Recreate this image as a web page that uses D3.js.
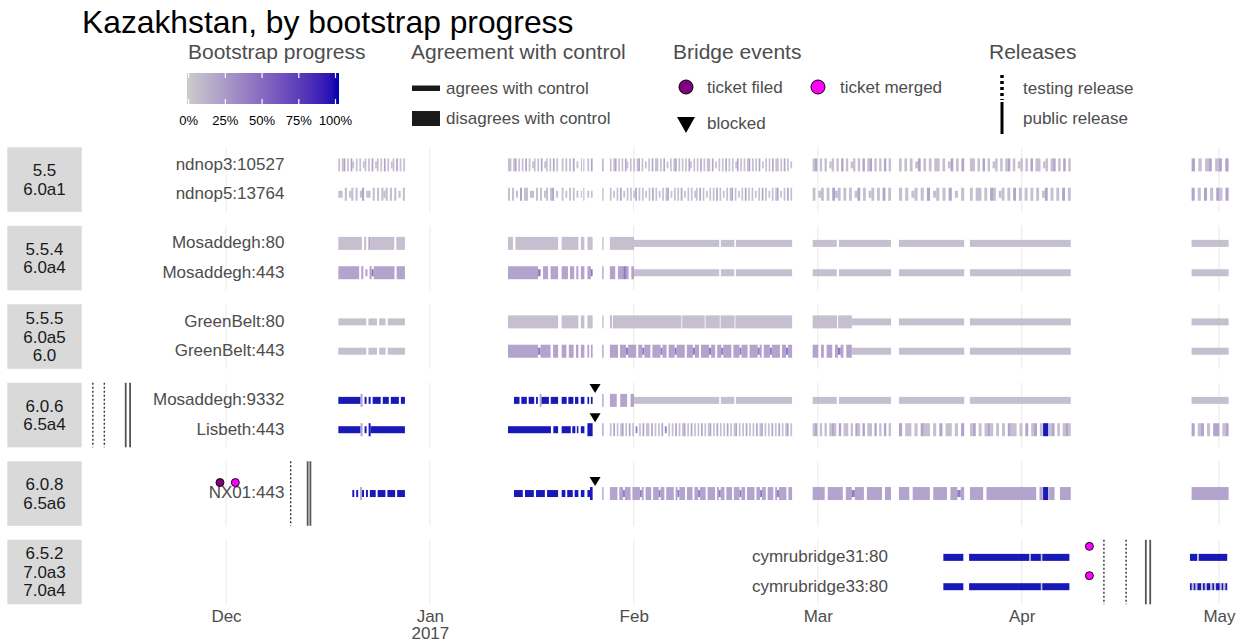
<!DOCTYPE html>
<html>
<head>
<meta charset="utf-8">
<script src="https://cdn.jsdelivr.net/npm/d3@7"></script>
<style>
  body { margin: 0; background: #fff; }
  text { font-family: "Liberation Sans", Arial, Helvetica, sans-serif; }
</style>
</head>
<body>
<svg id="chart" width="1244" height="644"></svg>
<script>
// facets (strip labels) and the bridges drawn in each
var panelLabels = [
  ["5.5", "6.0a1"],
  ["5.5.4", "6.0a4"],
  ["5.5.5", "6.0a5", "6.0"],
  ["6.0.6", "6.5a4"],
  ["6.0.8", "6.5a6"],
  ["6.5.2", "7.0a3", "7.0a4"]
];
var bridgeNames = ["ndnop3:10527", "ndnop5:13764", "Mosaddegh:80", "Mosaddegh:443",
  "GreenBelt:80", "GreenBelt:443", "Mosaddegh:9332", "Lisbeth:443", "NX01:443",
  "cymrubridge31:80", "cymrubridge33:80"];
var bridgePanel = [0, 0, 1, 1, 2, 2, 3, 3, 4, 5, 5];
// where the bridge names sit, per panel
var labelDates = ["2016-12-09T21", "2016-12-09T21", "2016-12-09T21", "2016-12-09T21", "2016-12-09T21", "2017-03-11T16"];

// measurement runs: [start, end, codes]; codes are spread evenly over the run
// g/l/p/b = 10/25/50/100% bootstrap, lower case agrees with control, upper case disagrees, _ = nothing
var progressCodes = { g: 10, l: 25, p: 50, b: 100 };

var ndnop3 = [
  ["2016-12-18T02", "2016-12-28T05", "G_GL_G_Lg_G_G_gG_G_L_gG_G_L_G_gG_L_G_G"],
  ["2017-01-12T21", "2017-01-20T12", "GG_GL_G_G_L_G_gG_G_L_gG_G_L_G"],
  ["2017-01-21T01", "2017-01-23T14", "G_G_G_L_g"],
  ["2017-01-23T23", "2017-01-24T12", "G_G"],
  ["2017-01-24T23", "2017-01-25T18", "G_L"],
  ["2017-01-27T05", "2017-01-27T10", "L"],
  ["2017-01-28T09", "2017-02-25T02", "G_GL_G_G_Lg_G_G_GL_G_g_G_L_GG_G_L_g_G_GL_G_G_G_Lg_G_G_L_G_GG_L_g_G_G_L_G_G_gL_G_G_GL_G_G_L_g_G_G_L_GG_G_L_G_g"],
  ["2017-02-28T05", "2017-03-12T03", "GL_G_G_gG_G_L_G_gG_G_L_GL_G_G_L_G"],
  ["2017-03-13T08", "2017-03-23T06", "G_G_G_gL_G_G_GG_G_gL_G_L"],
  ["2017-03-24T03", "2017-04-08T11", "GG_G_L_G_gG_G_GL_G_gG_G_L_GG_gG_GL_G_L_G"],
  ["2017-04-26T20", "2017-05-02T11", "L_G_GL_GL_L"]
];
var ndnop5 = [
  ["2016-12-18T02", "2016-12-28T05", "gg_G_gG_G_gL_gg_G_G_GgG_G_G_g_G"],
  ["2017-01-12T21", "2017-01-20T12", "G_G_g_L_GG_gg_G_G_gG_GL_g"],
  ["2017-01-21T01", "2017-01-23T14", "G_g_G_G_g"],
  ["2017-01-23T23", "2017-01-24T12", "g_G"],
  ["2017-01-24T23", "2017-01-25T18", "g_g"],
  ["2017-01-27T05", "2017-01-27T10", "G"],
  ["2017-01-28T09", "2017-02-25T02", "G_g_G_L_g_G_G_gL_G_G_g_G_L_G_g_G_GL_g_G_G_L_g_G_G_gG_L_G_g_G_G_L_G_g_G_GL_G_g_G_L_G_G_g_G_L_G_g_G_GL_g_G_L_G"],
  ["2017-02-28T05", "2017-03-12T03", "G_gG_G_LgG_G_G_gL_G_gG_G_L_G"],
  ["2017-03-13T08", "2017-03-23T06", "G_G_gG_G_L_gG_G_L_g_G"],
  ["2017-03-24T03", "2017-04-08T11", "G_GG_G_LG_gG_G_L_G_G_G_G_gL_G_G_L_G"],
  ["2017-04-26T20", "2017-05-02T11", "L_G_L_G_LG_L"]
];
var mosaddegh80 = [
  ["2016-12-18T02", "2016-12-28T05", "GGGGGGGGGGG_G_LGGGGGGGGGGG_GGGG"],
  ["2017-01-12T21", "2017-01-20T12", "GG_GGGGGGGGGGGGGGGGG"],
  ["2017-01-21T01", "2017-01-23T14", "G"],
  ["2017-01-23T23", "2017-01-24T12", "G"],
  ["2017-01-24T23", "2017-01-25T18", "G"],
  ["2017-01-27T05", "2017-01-27T10", "G"],
  ["2017-01-28T09", "2017-02-01T01", "G"],
  ["2017-02-01T01", "2017-02-14T00", "g"],
  ["2017-02-14T06", "2017-02-16T07", "g"],
  ["2017-02-16T13", "2017-02-25T02", "g"],
  ["2017-02-28T05", "2017-03-03T21", "g"],
  ["2017-03-04T05", "2017-03-12T03", "g"],
  ["2017-03-13T08", "2017-03-23T06", "g"],
  ["2017-03-24T03", "2017-04-08T11", "g"],
  ["2017-04-26T20", "2017-05-02T11", "g"]
];
var mosaddegh443 = [
  ["2016-12-18T02", "2016-12-28T05", "LLLLLLLLLL_L_l_LpLLLLLLLLLL_LLLL"],
  ["2017-01-12T21", "2017-01-20T12", "LLLLLLLLLLLLp_LL_LLL"],
  ["2017-01-21T01", "2017-01-23T14", "LLL_LL_L"],
  ["2017-01-23T23", "2017-01-24T12", "L"],
  ["2017-01-24T23", "2017-01-25T18", "LLp"],
  ["2017-01-27T05", "2017-01-27T10", "L"],
  ["2017-01-28T09", "2017-02-01T01", "LL_LLPL_L"],
  ["2017-02-01T01", "2017-02-14T00", "g"],
  ["2017-02-14T06", "2017-02-16T07", "g"],
  ["2017-02-16T13", "2017-02-25T02", "g"],
  ["2017-02-28T05", "2017-03-03T21", "g"],
  ["2017-03-04T05", "2017-03-12T03", "g"],
  ["2017-03-13T08", "2017-03-23T06", "g"],
  ["2017-03-24T03", "2017-04-08T11", "g"],
  ["2017-04-26T20", "2017-05-02T11", "g"]
];
var greenbelt80 = [
  ["2016-12-18T02", "2016-12-28T05", "ggggggggggggg_gggg_ggg_gggggggg"],
  ["2017-01-12T21", "2017-01-20T12", "G"],
  ["2017-01-21T01", "2017-01-23T14", "G"],
  ["2017-01-23T23", "2017-01-24T12", "G"],
  ["2017-01-24T23", "2017-01-25T18", "G"],
  ["2017-01-27T05", "2017-01-27T10", "G"],
  ["2017-01-28T09", "2017-01-28T17", "G"],
  ["2017-01-28T20", "2017-02-08T06", "G"],
  ["2017-02-08T09", "2017-02-11T19", "G"],
  ["2017-02-11T22", "2017-02-14T02", "G"],
  ["2017-02-14T05", "2017-02-16T08", "G"],
  ["2017-02-16T11", "2017-02-25T02", "G"],
  ["2017-02-28T05", "2017-03-03T22", "G"],
  ["2017-03-04T02", "2017-03-06T04", "G"],
  ["2017-03-06T04", "2017-03-12T03", "g"],
  ["2017-03-13T08", "2017-03-23T06", "g"],
  ["2017-03-24T03", "2017-04-08T11", "g"],
  ["2017-04-26T20", "2017-05-02T11", "g"]
];
var greenbelt443 = [
  ["2016-12-18T02", "2016-12-28T05", "ggggggggggggg_gggg_ggg_gggggggg"],
  ["2017-01-12T21", "2017-01-20T12", "LLLLLLLLLLLLpLLLL_LL"],
  ["2017-01-21T01", "2017-01-23T14", "LL_LL_L"],
  ["2017-01-23T23", "2017-01-24T12", "L"],
  ["2017-01-24T23", "2017-01-25T18", "L_L"],
  ["2017-01-27T05", "2017-01-27T10", "L"],
  ["2017-01-28T09", "2017-02-25T02", "LLLL_LLLpLLLL_LLpLLL_LLLLpLL_LLLpLLLL_LLLpLL_LLLLpLL_LLpLLLL_LLLpLLL_LLLLpL_LLLpLLLL_LLpLL"],
  ["2017-02-28T05", "2017-03-06T04", "LL_L_LL_LpL_LL"],
  ["2017-03-06T04", "2017-03-12T03", "g"],
  ["2017-03-13T08", "2017-03-23T06", "g"],
  ["2017-03-24T03", "2017-04-08T11", "g"],
  ["2017-04-26T20", "2017-05-02T11", "g"]
];
var mosaddegh9332 = [
  ["2016-12-18T02", "2016-12-28T05", "bbbbbbbbbbbL_b_b_bbbb_bbb_bbbb_bb"],
  ["2017-01-13T19", "2017-01-20T12", "bbb_bbb_bbb_b_Lbbbb_bbbb"],
  ["2017-01-21T01", "2017-01-23T14", "bbb_bbb_bb"],
  ["2017-01-23T23", "2017-01-24T12", "b"],
  ["2017-01-24T23", "2017-01-25T18", "b_b"],
  ["2017-01-27T05", "2017-01-27T10", "L"],
  ["2017-01-28T09", "2017-02-01T01", "LL_LL_L"],
  ["2017-02-01T01", "2017-02-14T00", "g"],
  ["2017-02-14T06", "2017-02-16T07", "g"],
  ["2017-02-16T13", "2017-02-25T02", "g"],
  ["2017-02-28T05", "2017-03-03T21", "g"],
  ["2017-03-04T05", "2017-03-12T03", "g"],
  ["2017-03-13T08", "2017-03-23T06", "g"],
  ["2017-03-24T03", "2017-04-08T11", "g"],
  ["2017-04-26T20", "2017-05-02T11", "g"]
];
var lisbeth443 = [
  ["2016-12-18T02", "2016-12-28T05", "bbbbbbbbbbbL_b_Bbbbbbbbbbbbbbbbbb"],
  ["2017-01-12T21", "2017-01-20T12", "bbbbbbbbbbbbbbbbbb_bb"],
  ["2017-01-21T01", "2017-01-23T14", "bbbbbb_bb_b"],
  ["2017-01-23T23", "2017-01-24T12", "b"],
  ["2017-01-24T23", "2017-01-25T18", "B"],
  ["2017-01-27T05", "2017-01-27T10", "L"],
  ["2017-01-28T09", "2017-02-25T02", "G_L_G_GL_G_L_G_p_G_L_GG_L_G_G_L_p_G_G_L_G_GL_G_L_G_G_L_G_GL_G_L_G_G_L_G_GL_G_G_L_G_G_L_GL_G_G_L_G_L_G_GL_G"],
  ["2017-02-28T05", "2017-03-12T03", "GL_G_G_GLG_L_GG_G_LG_L_GG_L_G_L_G"],
  ["2017-03-13T08", "2017-03-23T06", "L_GG_G_LGG_G_L_GG_G_L"],
  ["2017-03-24T03", "2017-04-04T05", "GL_G_GLG_G_G_LGG_G_L_GL_G"],
  ["2017-04-04T06", "2017-04-05T01", "B"],
  ["2017-04-05T04", "2017-04-08T11", "GL_G_GLG"],
  ["2017-04-26T20", "2017-05-02T11", "L_GL_G_LL_GL"]
];
var nx01 = [
  ["2016-12-20T05", "2016-12-28T05", "b_b_Lb_b_bbb_bbbb_bbbb_bbbb"],
  ["2017-01-13T19", "2017-01-20T12", "bbbb_bbbb_bbbb_bbbbb"],
  ["2017-01-21T01", "2017-01-23T14", "bb_bbb_bb"],
  ["2017-01-23T23", "2017-01-24T12", "b"],
  ["2017-01-24T23", "2017-01-25T18", "bB"],
  ["2017-01-27T05", "2017-01-27T10", "L"],
  ["2017-01-28T09", "2017-02-25T02", "LLLL_LLpLLL_LLLLpL_LLL_LLLpLL_LLLL_LpLLL_LLL_LLpLLL_LLLL_LpLL_LLL_LLLpLL_LLLL_LLpLL_LLL_LpLLLL_LL"],
  ["2017-02-28T05", "2017-03-12T03", "LLLL_LLLLL_LLpLLL_LLLLL_LL"],
  ["2017-03-13T08", "2017-03-23T06", "LLL_LLLLL_LLLL_LLpL"],
  ["2017-03-24T03", "2017-04-04T05", "LLLL_LLLLLLLLLLLLLLL_L"],
  ["2017-04-04T06", "2017-04-05T01", "B"],
  ["2017-04-05T04", "2017-04-08T11", "L_LL"],
  ["2017-04-26T20", "2017-05-02T11", "L"]
];
var cymru31 = [
  ["2017-03-20T02", "2017-03-23T03", "b"],
  ["2017-03-24T00", "2017-04-02T04", "b"],
  ["2017-04-02T04", "2017-04-02T09", "g"],
  ["2017-04-02T09", "2017-04-03T22", "b"],
  ["2017-04-03T22", "2017-04-04T03", "g"],
  ["2017-04-04T03", "2017-04-08T06", "b"],
  ["2017-04-26T14", "2017-05-02T06", "bbbbgbbbbbbbbbbbbbbbb"]
];
var cymru33 = [
  ["2017-03-20T02", "2017-03-23T03", "b"],
  ["2017-03-24T00", "2017-04-03T22", "b"],
  ["2017-04-03T22", "2017-04-04T03", "g"],
  ["2017-04-04T03", "2017-04-08T06", "b"],
  ["2017-04-26T14", "2017-05-02T06", "bgbgbbgbgbbgbgbbgbgb"]
];
var bridgeRuns = [ndnop3, ndnop5, mosaddegh80, mosaddegh443, greenbelt80, greenbelt443,
  mosaddegh9332, lisbeth443, nx01, cymru31, cymru33];

// bridge events
var eventBridges = ["NX01:443", "NX01:443", "Mosaddegh:9332", "Lisbeth:443", "NX01:443", "cymrubridge31:80", "cymrubridge33:80"];
var eventDates = ["2016-11-30T02", "2016-12-02T10", "2017-01-26T03", "2017-01-26T03", "2017-01-26T03", "2017-04-11T07", "2017-04-11T07"];
var eventTypes = ["filed", "merged", "blocked", "blocked", "blocked", "merged", "merged"];

// releases, by panel
var releasePanels = [3, 3, 3, 3, 4, 4, 4, 5, 5, 5, 5];
var releaseDates = ["2016-11-10T18", "2016-11-12T12", "2016-11-15T18", "2016-11-16T10",
  "2016-12-10T20", "2016-12-13T10", "2016-12-13T20",
  "2017-04-13T12", "2017-04-16T21", "2017-04-19T21", "2017-04-20T13"];
var releaseTypes = ["testing", "testing", "public", "public",
  "testing", "public", "public",
  "testing", "testing", "public", "public"];

var monthTicks = ["2016-12-01T00", "2017-01-01T00", "2017-02-01T00", "2017-03-01T00", "2017-04-01T00", "2017-05-01T00"];
var monthLabels = ["Dec", "Jan", "Feb", "Mar", "Apr", "May"];
var yearLabels = ["", "2017", "", "", "", ""];
var legendTicks = [0, 25, 50, 75, 100];

var svg = d3.select("#chart");
var parse = d3.utcParse("%Y-%m-%dT%H");

var x = d3.scaleUtc()
  .domain([parse("2016-12-01T00"), parse("2017-05-01T00")])
  .range([226, 1219]);
var panelY = d3.scaleBand()
  .domain(d3.range(panelLabels.length))
  .range([147.3, 604.3])
  .paddingInner(0.178);
var colour = d3.scaleLinear()
  .domain([0, 100])
  .range(["#cccccc", "#0000b0"])
  .interpolate(d3.interpolateLab);

var thin = 7, thick = 13;
var rowY = {};

panelLabels.forEach(function(lines, p) {
  var top = panelY(p), h = panelY.bandwidth();
  var names = bridgeNames.filter(function(n, i) { return bridgePanel[i] === p; });
  var y = d3.scalePoint().domain(names).range([top, top + h]).padding(0.6);
  names.forEach(function(n) { rowY[n] = y(n); });

  var g = svg.append("g").attr("class", "panel");

  g.selectAll("line.grid")
    .data(monthTicks)
    .enter().append("line")
    .attr("class", "grid")
    .attr("x1", function(d) { return x(parse(d)); })
    .attr("x2", function(d) { return x(parse(d)); })
    .attr("y1", top)
    .attr("y2", top + h)
    .attr("stroke", "#ebebeb")
    .attr("stroke-width", 1.1);

  g.append("rect")
    .attr("x", 7.3).attr("y", top)
    .attr("width", 74.4).attr("height", h)
    .attr("fill", "#d9d9d9");

  g.append("text")
    .attr("x", 44.5)
    .attr("y", top + h / 2 - (lines.length - 1) * 9.25)
    .attr("text-anchor", "middle")
    .attr("font-size", "17px")
    .attr("fill", "#1a1a1a")
    .selectAll("tspan")
    .data(lines)
    .enter().append("tspan")
    .attr("x", 44.5)
    .attr("dy", function(d, i) { return i === 0 ? "0.35em" : "18.5px"; })
    .text(function(d) { return d; });

  g.selectAll("text.bridge")
    .data(names)
    .enter().append("text")
    .attr("class", "bridge")
    .attr("x", x(parse(labelDates[p])))
    .attr("y", function(d) { return y(d) - 1; })
    .attr("dy", "0.35em")
    .attr("text-anchor", "end")
    .attr("font-size", "17px")
    .attr("fill", "#4d4d4d")
    .text(function(d) { return d; });

  var rel = releaseDates.map(function(d, i) { return { date: parse(d), type: releaseTypes[i], panel: releasePanels[i] }; })
    .filter(function(r) { return r.panel === p; });
  g.selectAll("line.release")
    .data(rel)
    .enter().append("line")
    .attr("class", "release")
    .attr("x1", function(d) { return x(d.date); })
    .attr("x2", function(d) { return x(d.date); })
    .attr("y1", top)
    .attr("y2", top + h)
    .attr("stroke", function(d) { return d.type === "public" ? "#555" : "#333"; })
    .attr("stroke-width", function(d) { return d.type === "public" ? 1.8 : 1.4; })
    .attr("stroke-dasharray", function(d) { return d.type === "public" ? null : "2,2"; });
});

// every measurement segment; equal neighbouring codes are joined into one rect
var segs = [];
bridgeRuns.forEach(function(runs, b) {
  runs.forEach(function(r) {
    var t0 = parse(r[0]).getTime(), t1 = parse(r[1]).getTime();
    var codes = r[2], n = codes.length, step = (t1 - t0) / n;
    var k = 0;
    while (k < n) {
      var c = codes[k], j = k;
      while (j + 1 < n && codes[j + 1] === c) j++;
      if (c !== "_") {
        segs.push({
          bridge: bridgeNames[b],
          start: new Date(t0 + k * step),
          end: new Date(t0 + (j + 1) * step),
          progress: progressCodes[c.toLowerCase()],
          disagree: c !== c.toLowerCase()
        });
      }
      k = j + 1;
    }
  });
});

svg.append("g").selectAll("rect")
  .data(segs)
  .enter().append("rect")
  .attr("x", function(d) { return x(d.start); })
  .attr("width", function(d) { return Math.max(1, x(d.end) - x(d.start)); })
  .attr("y", function(d) { return rowY[d.bridge] - (d.disagree ? thick : thin) / 2; })
  .attr("height", function(d) { return d.disagree ? thick : thin; })
  .attr("fill", function(d) { return colour(d.progress); })
  .attr("fill-opacity", 0.9);

// bridge events
var events = eventDates.map(function(d, i) { return { date: parse(d), bridge: eventBridges[i], type: eventTypes[i] }; });
var eg = svg.append("g");
eg.selectAll("circle")
  .data(events.filter(function(e) { return e.type !== "blocked"; }))
  .enter().append("circle")
  .attr("cx", function(d) { return x(d.date); })
  .attr("cy", function(d) { return rowY[d.bridge] - 11; })
  .attr("r", 4)
  .attr("fill", function(d) { return d.type === "filed" ? "#800080" : "#ff00ff"; })
  .attr("stroke", "#000")
  .attr("stroke-width", 0.9);
eg.selectAll("path")
  .data(events.filter(function(e) { return e.type === "blocked"; }))
  .enter().append("path")
  .attr("d", function(d) {
    var cx = x(d.date), cy = rowY[d.bridge] - 12;
    return "M" + (cx - 5.5) + "," + (cy - 4.5) + "L" + (cx + 5.5) + "," + (cy - 4.5) + "L" + cx + "," + (cy + 4.5) + "Z";
  })
  .attr("fill", "#000");

// month axis
var axis = svg.append("g")
  .attr("transform", "translate(0,605)")
  .call(d3.axisBottom(x)
    .tickValues(monthTicks.map(parse))
    .tickFormat(function(d, i) { return monthLabels[i]; })
    .tickSize(0)
    .tickPadding(5));
axis.select(".domain").remove();
axis.selectAll("text")
  .attr("font-size", "17px")
  .attr("font-family", "Liberation Sans, Arial, sans-serif")
  .attr("fill", "#4d4d4d");
axis.selectAll(".tick").append("text")
  .attr("y", 22)
  .attr("dy", "0.71em")
  .attr("font-size", "17px")
  .attr("font-family", "Liberation Sans, Arial, sans-serif")
  .attr("fill", "#4d4d4d")
  .text(function(d, i) { return yearLabels[i]; });

// title and legends
svg.append("text")
  .attr("x", 82).attr("y", 33)
  .attr("font-size", "31.8px")
  .attr("fill", "#000")
  .text("Kazakhstan, by bootstrap progress");

function legendTitle(xp, label) {
  svg.append("text")
    .attr("x", xp).attr("y", 59)
    .attr("font-size", "21px")
    .attr("fill", "#4d4d4d")
    .text(label);
}
function legendLabel(xp, yp, label) {
  svg.append("text")
    .attr("x", xp).attr("y", yp)
    .attr("dy", "0.35em")
    .attr("font-size", "17px")
    .attr("fill", "#4d4d4d")
    .text(label);
}

legendTitle(188, "Bootstrap progress");
var grad = svg.append("defs").append("linearGradient").attr("id", "prog");
grad.selectAll("stop")
  .data(d3.range(0, 101, 5))
  .enter().append("stop")
  .attr("offset", function(d) { return d + "%"; })
  .attr("stop-color", function(d) { return colour(d); });
svg.append("rect")
  .attr("x", 187).attr("y", 73)
  .attr("width", 152).attr("height", 31)
  .attr("fill", "url(#prog)");
var lx = d3.scaleLinear().domain([0, 100]).range([188.6, 335.5]);
[[73, 78], [99, 104]].forEach(function(yy) {
  svg.append("g").selectAll("line")
    .data(legendTicks)
    .enter().append("line")
    .attr("x1", lx).attr("x2", lx)
    .attr("y1", yy[0]).attr("y2", yy[1])
    .attr("stroke", "#fff")
    .attr("stroke-width", 1.2);
});
svg.append("g").selectAll("text")
  .data(legendTicks)
  .enter().append("text")
  .attr("x", lx)
  .attr("y", 120)
  .attr("dy", "0.35em")
  .attr("text-anchor", "middle")
  .attr("font-size", "13px")
  .attr("fill", "#000")
  .text(function(d) { return d + "%"; });

legendTitle(411, "Agreement with control");
svg.append("rect").attr("x", 412).attr("y", 85.5).attr("width", 28).attr("height", 5.5).attr("fill", "#1a1a1a");
svg.append("rect").attr("x", 412).attr("y", 111).attr("width", 28).attr("height", 15).attr("fill", "#1a1a1a");
legendLabel(446, 88, "agrees with control");
legendLabel(446, 118, "disagrees with control");

legendTitle(673, "Bridge events");
svg.append("circle").attr("cx", 686).attr("cy", 87).attr("r", 7).attr("fill", "#800080").attr("stroke", "#000").attr("stroke-width", 1);
svg.append("circle").attr("cx", 818).attr("cy", 87).attr("r", 7).attr("fill", "#ff00ff").attr("stroke", "#000").attr("stroke-width", 1);
svg.append("path").attr("d", "M677,117L695,117L686,133Z").attr("fill", "#000");
legendLabel(707, 87, "ticket filed");
legendLabel(840, 87, "ticket merged");
legendLabel(707, 123, "blocked");

legendTitle(989, "Releases");
svg.append("line").attr("x1", 1002).attr("x2", 1002).attr("y1", 75).attr("y2", 100)
  .attr("stroke", "#000").attr("stroke-width", 3.5).attr("stroke-dasharray", "3,3");
svg.append("line").attr("x1", 1002).attr("x2", 1002).attr("y1", 102).attr("y2", 134)
  .attr("stroke", "#000").attr("stroke-width", 3);
legendLabel(1023, 88, "testing release");
legendLabel(1023, 118, "public release");
</script>
</body>
</html>
